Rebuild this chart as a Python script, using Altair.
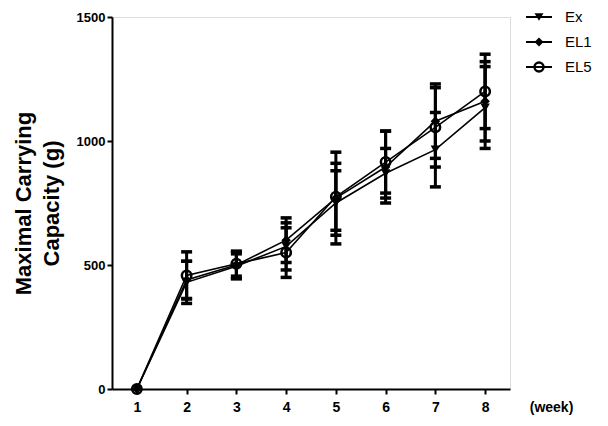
import altair as alt
import pandas as pd

weeks = [1, 2, 3, 4, 5, 6, 7, 8]
series_names = ["Ex", "EL1", "EL5"]
ex_mean = [0, 430, 495, 575, 750, 870, 965, 1135]
ex_err = [0, 85, 50, 95, 130, 100, 150, 165]
el1_mean = [0, 440, 500, 600, 770, 895, 1080, 1160]
el1_err = [0, 75, 55, 90, 185, 145, 150, 160]
el5_mean = [0, 458, 505, 550, 775, 915, 1055, 1200]
el5_err = [0, 95, 50, 100, 135, 125, 160, 150]
y_ticks = [0, 500, 1000, 1500]

rows = []
for name, m, e in [("Ex", ex_mean, ex_err), ("EL1", el1_mean, el1_err), ("EL5", el5_mean, el5_err)]:
    for w, mv, ev in zip(weeks, m, e):
        rows.append({"week": w, "series": name, "mean": mv, "lo": mv - ev, "hi": mv + ev, "err": ev})
df = pd.DataFrame(rows)

FONT = "Liberation Sans"
shapes = {"Ex": "triangle-down", "EL1": "diamond", "EL5": "circle"}

xs = alt.Scale(domain=[0.5, 8.5], nice=False, zero=False)
ys = alt.Scale(domain=[0, 1500], nice=False)

x_enc = alt.X("week:Q", scale=xs, axis=alt.Axis(
    values=weeks, format="d", grid=False, domainColor="black", domainWidth=2,
    tickColor="black", tickWidth=2, tickSize=5, labelFont=FONT, labelFontSize=14,
    labelFontWeight="bold", labelColor="black", labelPadding=6,
    title="(week)", titleFont=FONT, titleFontSize=14, titleFontWeight="bold",
    titleColor="black", titleX=439, titleY=18, titleAlign="center", titleBaseline="middle"))
y_enc = alt.Y("mean:Q", scale=ys, axis=alt.Axis(
    values=y_ticks, format="d", grid=False, domainColor="black", domainWidth=2,
    tickColor="black", tickWidth=2, tickSize=5, labelFont=FONT, labelFontSize=13,
    labelFontWeight="bold", labelColor="black", labelPadding=2,
    title=["Maximal Carrying", "Capacity (g)"], titleFont=FONT, titleFontSize=22,
    titleFontWeight="bold", titleColor="black", titleLineHeight=28, titlePadding=13))

base = alt.Chart(df)
lines = base.mark_line(color="black", strokeWidth=1.6).encode(
    x=x_enc, y=y_enc, detail="series:N")

eb_df = df[df["err"] > 0]
ebase = alt.Chart(eb_df)
rules = ebase.mark_rule(color="black", strokeWidth=3).encode(
    x=alt.X("week:Q", scale=xs), y=alt.Y("lo:Q", scale=ys), y2="hi:Q")
cap_lo = ebase.mark_tick(color="black", orient="horizontal", size=11, thickness=3.5, opacity=1).encode(
    x=alt.X("week:Q", scale=xs), y=alt.Y("lo:Q", scale=ys))
cap_hi = ebase.mark_tick(color="black", orient="horizontal", size=11, thickness=3.5, opacity=1).encode(
    x=alt.X("week:Q", scale=xs), y=alt.Y("hi:Q", scale=ys))

layers = [lines, rules, cap_lo, cap_hi]
for name in series_names:
    sub = alt.Chart(df[df["series"] == name])
    if name == "EL5":
        mk = sub.mark_point(shape=shapes[name], filled=False, color="black", strokeWidth=2.5, size=90, opacity=1)
    else:
        mk = sub.mark_point(shape=shapes[name], filled=True, color="black", size=90, opacity=1)
    layers.append(mk.encode(x=alt.X("week:Q", scale=xs), y=alt.Y("mean:Q", scale=ys)))

# legend
leg_y = [0, 25, 50]
for i, name in enumerate(series_names):
    ld = pd.DataFrame({"label": [name]})
    lc = alt.Chart(ld)
    layers.append(lc.mark_rule(color="black", strokeWidth=2).encode(
        x=alt.value(414), x2=alt.value(440), y=alt.value(leg_y[i])))
    if name == "EL5":
        pm = lc.mark_point(shape=shapes[name], filled=False, color="black", strokeWidth=2.5, size=80, opacity=1)
    else:
        pm = lc.mark_point(shape=shapes[name], filled=True, color="black", size=80, opacity=1)
    layers.append(pm.encode(x=alt.value(427), y=alt.value(leg_y[i])))
    layers.append(lc.mark_text(align="left", baseline="middle", font=FONT, fontSize=15, color="black").encode(
        x=alt.value(453), y=alt.value(leg_y[i]), text="label:N"))

chart = alt.layer(*layers).properties(
    width=398, height=372,
    autosize=alt.AutoSizeParams(type="none"),
    padding={"left": 104, "top": 9, "right": 90, "bottom": 27},
).configure_view(stroke=None).configure(background="white")

chart.save("out.html", embed_options={"renderer": "svg", "actions": False})
